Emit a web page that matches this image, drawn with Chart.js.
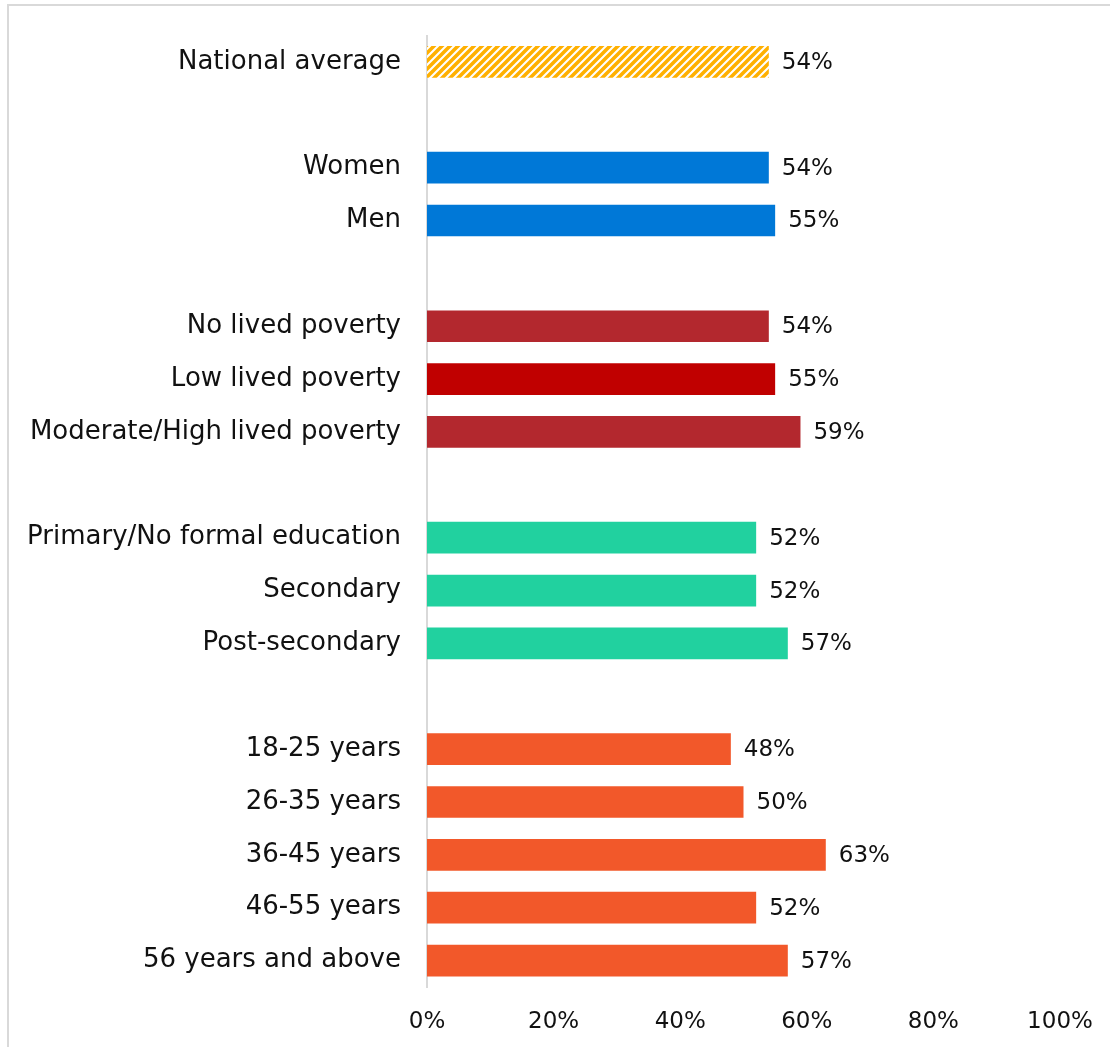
<!DOCTYPE html>
<html>
<head>
<meta charset="utf-8">
<script src="https://cdn.jsdelivr.net/npm/chart.js@4.4.0/dist/chart.umd.min.js"></script>
<style>
  html, body { margin: 0; padding: 0; background: #fff; }
  #wrap { width: 1110px; height: 1047px; position: relative; }
</style>
</head>
<body>
<div id="wrap"><canvas id="chart"></canvas></div>
<script>
// Rows, empty strings are spacer rows between groups
const categories = [
    'National average', '',
    'Women', 'Men', '',
    'No lived poverty', 'Low lived poverty', 'Moderate/High lived poverty', '',
    'Primary/No formal education', 'Secondary', 'Post-secondary', '',
    '18-25 years', '26-35 years', '36-45 years', '46-55 years', '56 years and above'
];
const values = [
    54, null,
    54, 55, null,
    54, 55, 59, null,
    52, 52, 57, null,
    48, 50, 63, 52, 57
];
const xTicks = [0, 20, 40, 60, 80, 100];

const FONT = '"DejaVu Sans", sans-serif';

// hatch pattern for the national average
function makeHatch() {
    const c = document.createElement('canvas');
    c.width = 8; c.height = 8;
    const g = c.getContext('2d');
    g.fillStyle = '#ffffff';
    g.fillRect(0, 0, 8, 8);
    g.strokeStyle = '#FFB000';
    g.lineWidth = 3.6;
    g.beginPath();
    g.moveTo(-2, 10); g.lineTo(10, -2);
    g.moveTo(-6, 6); g.lineTo(6, -6);
    g.moveTo(2, 14); g.lineTo(14, 2);
    g.stroke();
    return g.createPattern(c, 'repeat');
}

const ctx = document.getElementById('chart').getContext('2d');
const hatch = makeHatch();

const barColors = [
    hatch, null,
    '#0078D7', '#0078D7', null,
    '#B3282E', '#C00000', '#B3282E', null,
    '#21D19F', '#21D19F', '#21D19F', null,
    '#F2582A', '#F2582A', '#F2582A', '#F2582A', '#F2582A'
];

// frame lines at left/top + value labels
const extras = {
    id: 'extras',
    beforeDraw(chart) {
        const c = chart.ctx;
        c.save();
        c.strokeStyle = '#d9d9d9';
        c.lineWidth = 2;
        c.beginPath();
        c.moveTo(8, 1047);
        c.lineTo(8, 5);
        c.lineTo(1110, 5);
        c.stroke();
        c.restore();
    },
    afterDatasetsDraw(chart) {
        const c = chart.ctx;
        const meta = chart.getDatasetMeta(0);
        c.save();
        c.font = '23px ' + FONT;
        c.fillStyle = '#111';
        c.textAlign = 'left';
        c.textBaseline = 'middle';
        meta.data.forEach((bar, i) => {
            if (values[i] == null) return;
            c.fillText(values[i] + '%', bar.x + 13, bar.y + 1);
        });
        c.restore();
    }
};

new Chart(ctx, {
    type: 'bar',
    data: {
        labels: categories,
        datasets: [{
            data: values,
            backgroundColor: barColors,
            borderWidth: 0,
            categoryPercentage: 1.0,
            barPercentage: 0.6
        }]
    },
    options: {
        indexAxis: 'y',
        responsive: true,
        maintainAspectRatio: false,
        animation: false,
        layout: { padding: { top: 35.5, right: 50, left: 0, bottom: 0 } },
        scales: {
            x: {
                min: 0,
                max: 100,
                afterBuildTicks: s => { s.ticks = xTicks.map(v => ({ value: v })); },
                grid: { display: false, drawTicks: false },
                border: { display: false },
                ticks: {
                    padding: 21,
                    color: '#111',
                    font: { family: FONT, size: 23 },
                    callback: v => v + '%'
                },
                afterFit: s => {
                    s.height = 60;
                    s.paddingLeft = 0;
                    s.paddingRight = 0;
                }
            },
            y: {
                grid: { display: false, drawTicks: false },
                border: { display: true, color: '#d9d9d9', width: 2 },
                ticks: {
                    padding: 26,
                    color: '#111',
                    font: { family: FONT, size: 26 }
                },
                afterFit: s => {
                    s.width = 427;
                    s.paddingTop = 0;
                    s.paddingBottom = 0;
                }
            }
        },
        plugins: {
            legend: { display: false },
            tooltip: { enabled: false }
        }
    },
    plugins: [extras]
});
</script>
</body>
</html>
